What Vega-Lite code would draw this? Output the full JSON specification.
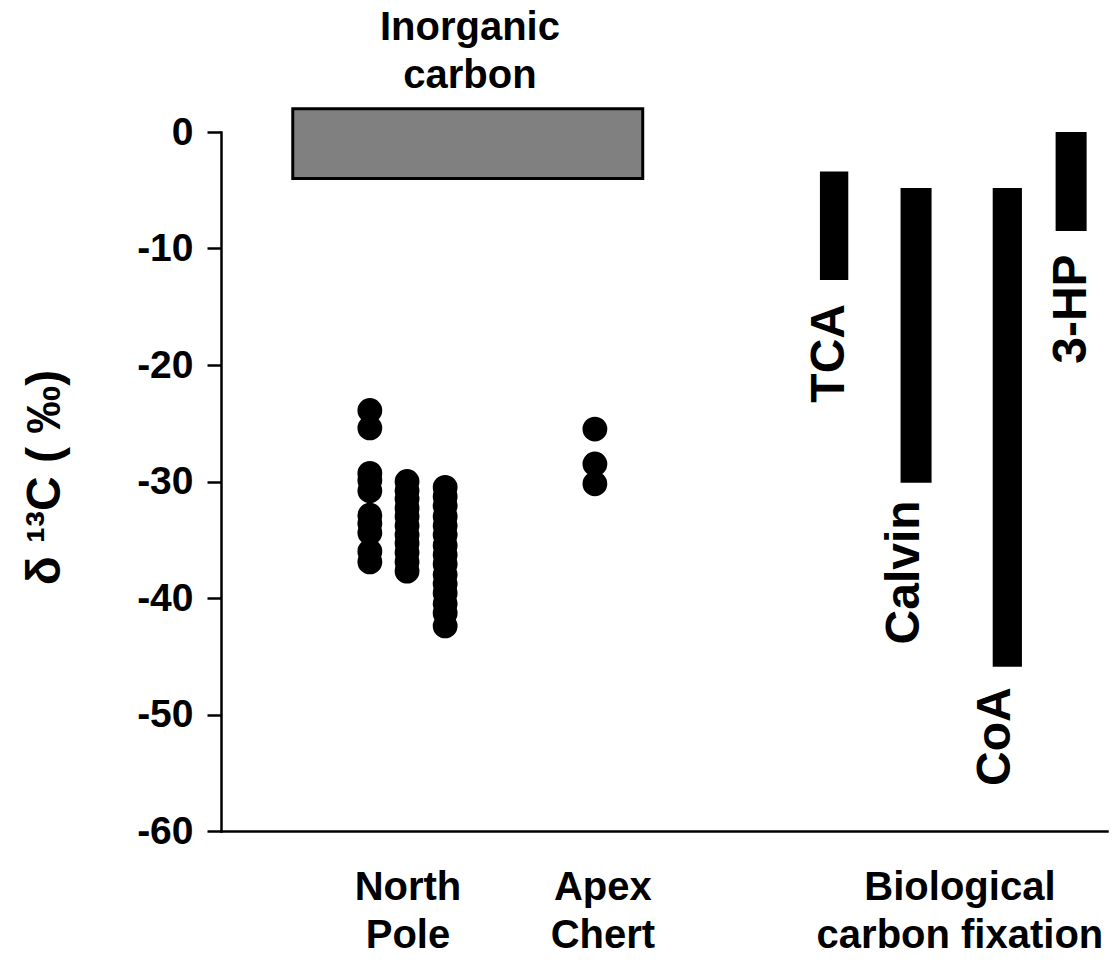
{
  "$schema": "https://vega.github.io/schema/vega-lite/v6.json",
  "width": 886,
  "height": 699,
  "autosize": {"type": "none"},
  "padding": {"left": 221, "top": 132, "right": 11, "bottom": 136},
  "background": "white",
  "config": {
    "view": {"stroke": null},
    "font": "Liberation Sans",
    "text": {"font": "Liberation Sans", "fontWeight": "bold", "color": "black"}
  },
  "datasets": {
    "box": [{"label": "Inorganic carbon", "x1": 8.1, "x2": 47.6, "lo": -4, "hi": 2}],
    "dots": [
      {"site": "North Pole A", "x": 16.8, "d13C": -23.9},
      {"site": "North Pole A", "x": 16.8, "d13C": -25.4},
      {"site": "North Pole A", "x": 16.8, "d13C": -29.3},
      {"site": "North Pole A", "x": 16.8, "d13C": -29.9},
      {"site": "North Pole A", "x": 16.8, "d13C": -30.8},
      {"site": "North Pole A", "x": 16.8, "d13C": -32.9},
      {"site": "North Pole A", "x": 16.8, "d13C": -33.6},
      {"site": "North Pole A", "x": 16.8, "d13C": -34.4},
      {"site": "North Pole A", "x": 16.8, "d13C": -36.0},
      {"site": "North Pole A", "x": 16.8, "d13C": -36.9},
      {"site": "North Pole B", "x": 21.0, "d13C": -30.0},
      {"site": "North Pole B", "x": 21.0, "d13C": -30.8},
      {"site": "North Pole B", "x": 21.0, "d13C": -31.5},
      {"site": "North Pole B", "x": 21.0, "d13C": -32.3},
      {"site": "North Pole B", "x": 21.0, "d13C": -33.0},
      {"site": "North Pole B", "x": 21.0, "d13C": -33.8},
      {"site": "North Pole B", "x": 21.0, "d13C": -34.6},
      {"site": "North Pole B", "x": 21.0, "d13C": -35.3},
      {"site": "North Pole B", "x": 21.0, "d13C": -36.1},
      {"site": "North Pole B", "x": 21.0, "d13C": -36.9},
      {"site": "North Pole B", "x": 21.0, "d13C": -37.7},
      {"site": "North Pole C", "x": 25.3, "d13C": -30.5},
      {"site": "North Pole C", "x": 25.3, "d13C": -31.3},
      {"site": "North Pole C", "x": 25.3, "d13C": -32.1},
      {"site": "North Pole C", "x": 25.3, "d13C": -33.0},
      {"site": "North Pole C", "x": 25.3, "d13C": -33.8},
      {"site": "North Pole C", "x": 25.3, "d13C": -34.6},
      {"site": "North Pole C", "x": 25.3, "d13C": -35.5},
      {"site": "North Pole C", "x": 25.3, "d13C": -36.3},
      {"site": "North Pole C", "x": 25.3, "d13C": -37.1},
      {"site": "North Pole C", "x": 25.3, "d13C": -38.0},
      {"site": "North Pole C", "x": 25.3, "d13C": -38.8},
      {"site": "North Pole C", "x": 25.3, "d13C": -39.6},
      {"site": "North Pole C", "x": 25.3, "d13C": -40.5},
      {"site": "North Pole C", "x": 25.3, "d13C": -41.3},
      {"site": "North Pole C", "x": 25.3, "d13C": -42.4},
      {"site": "Apex Chert", "x": 42.2, "d13C": -25.5},
      {"site": "Apex Chert", "x": 42.2, "d13C": -28.5},
      {"site": "Apex Chert", "x": 42.2, "d13C": -30.2}
    ],
    "pathways": [
      {"pathway": "TCA", "x1": 67.6, "x2": 70.8, "top": -3.4, "bottom": -12.7, "lx": 68.7, "ly": -19.0},
      {"pathway": "Calvin", "x1": 76.7, "x2": 80.2, "top": -4.8, "bottom": -30.1, "lx": 77.2, "ly": -37.8},
      {"pathway": "CoA", "x1": 87.1, "x2": 90.4, "top": -4.8, "bottom": -45.9, "lx": 87.5, "ly": -51.9},
      {"pathway": "3-HP", "x1": 94.2, "x2": 97.7, "top": 0, "bottom": -8.5, "lx": 96.0, "ly": -15.2}
    ],
    "labels": [
      {"text": "Inorganic|carbon", "x": 28.1, "y": 8.9},
      {"text": "North|Pole", "x": 21.1, "y": -64.9},
      {"text": "Apex|Chert", "x": 43.1, "y": -64.9},
      {"text": "Biological|carbon fixation", "x": 83.4, "y": -64.9}
    ]
  },
  "layer": [
    {
      "data": {"name": "box"},
      "mark": {"type": "rect", "fill": "#808080", "stroke": "black", "strokeWidth": 3},
      "encoding": {
        "x": {"field": "x1", "type": "quantitative", "scale": {"domain": [0, 100], "nice": false, "zero": false},
          "axis": {"labels": false, "ticks": false, "grid": false, "title": null, "domainColor": "black", "domainWidth": 2.5, "domainCap": "square"}},
        "x2": {"field": "x2"},
        "y": {"field": "lo", "type": "quantitative", "scale": {"domain": [-60, 0], "nice": false, "zero": false},
          "axis": {
            "values": [-60, -50, -40, -30, -20, -10, 0],
            "labelExpr": "'' + datum.value",
            "grid": false,
            "domainColor": "black", "domainWidth": 2.5, "domainCap": "square",
            "tickColor": "black", "tickWidth": 2.5, "tickSize": 14,
            "labelFont": "Liberation Sans", "labelFontWeight": "bold", "labelFontSize": 39, "labelColor": "black", "labelPadding": 14,
            "title": "δ ¹³C ( ‰)",
            "titleFont": "Liberation Sans", "titleFontWeight": "bold", "titleFontSize": 48, "titleColor": "black",
            "titleAngle": -90, "titleX": -176, "titleY": 345, "titleAlign": "center", "titleBaseline": "middle"
          }},
        "y2": {"field": "hi"}
      }
    },
    {
      "data": {"name": "dots"},
      "mark": {"type": "circle", "color": "black", "opacity": 1, "size": 616},
      "encoding": {
        "x": {"field": "x", "type": "quantitative"},
        "y": {"field": "d13C", "type": "quantitative"}
      }
    },
    {
      "data": {"name": "pathways"},
      "mark": {"type": "rect", "color": "black"},
      "encoding": {
        "x": {"field": "x1", "type": "quantitative"},
        "x2": {"field": "x2"},
        "y": {"field": "top", "type": "quantitative"},
        "y2": {"field": "bottom"}
      }
    },
    {
      "data": {"name": "pathways"},
      "mark": {"type": "text", "angle": 270, "fontSize": 48, "align": "center", "baseline": "middle"},
      "encoding": {
        "x": {"field": "lx", "type": "quantitative"},
        "y": {"field": "ly", "type": "quantitative"},
        "text": {"field": "pathway"}
      }
    },
    {
      "data": {"name": "labels"},
      "mark": {"type": "text", "fontSize": 40, "align": "center", "baseline": "middle", "lineBreak": "|", "lineHeight": 48},
      "encoding": {
        "x": {"field": "x", "type": "quantitative"},
        "y": {"field": "y", "type": "quantitative"},
        "text": {"field": "text"}
      }
    }
  ]
}
